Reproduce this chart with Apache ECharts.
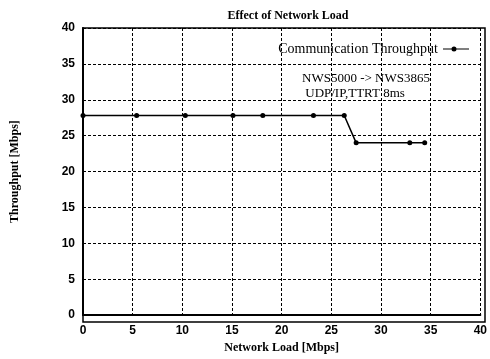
<!DOCTYPE html>
<html><head><meta charset="utf-8">
<script src="https://cdn.jsdelivr.net/npm/echarts@6/dist/echarts.min.js"></script>
<style>html,body{margin:0;padding:0;background:#fff}#c{width:490px;height:359px}</style>
</head><body><div id="c"></div>
<script>
const loadMbps = [0, 5.4, 10.3, 15.1, 18.1, 23.2, 26.3, 27.5, 32.9, 34.4];
const throughputMbps = [27.8, 27.8, 27.8, 27.8, 27.8, 27.8, 27.8, 24.0, 24.0, 24.0];
const seriesName = 'Communication Throughput';
const annotation = ['NWS5000 -> NWS3865', 'UDP/IP,TTRT 8ms'];
const F = 'Liberation Serif';
const FS = 'Liberation Sans';
const W = 490, H = 359;
const grid = {left: 83, right: 5, top: 28, bottom: 37};
const chart = echarts.init(document.getElementById('c'));
chart.setOption({
  animation: false,
  title: {text: 'Effect of Network Load', left: 283, top: 5, textAlign: 'center',
    textStyle: {fontFamily: F, fontSize: 12, fontWeight: 'bold', color: '#000'}},
  grid: grid,
  legend: {right: 16, top: 37, align: 'right', itemWidth: 26, itemHeight: 5, itemGap: 6,
    textStyle: {fontFamily: F, fontSize: 14, color: '#000'},
    data: [{name: seriesName,
      icon: 'path://M0,3.5L8.6,3.5L8.6,4.5L0,4.5Z M13.4,3.5L26,3.5L26,4.5L13.4,4.5Z M8.5,4A2.5,2.5 0 1,1 13.5,4A2.5,2.5 0 1,1 8.5,4Z'}]},
  graphic: [
    {type: 'text', left: 302, top: 71,
      style: {text: annotation[0] + '\n ' + annotation[1], font: '13px "Liberation Serif"', fill: '#000', align: 'left', lineHeight: 15}},
    {type: 'rect', silent: true, z: 10,
      shape: {x: grid.left, y: grid.top, width: W - grid.left - grid.right, height: H - grid.top - grid.bottom},
      style: {fill: 'none', stroke: '#000', lineWidth: 1.5}}
  ],
  xAxis: {type: 'value', min: 0, max: 40, interval: 5,
    name: 'Network Load [Mbps]', nameLocation: 'middle', nameGap: 26,
    nameTextStyle: {fontFamily: F, fontSize: 12, fontWeight: 'bold', color: '#000'},
    axisLine: {lineStyle: {color: '#000', width: 2}}, axisTick: {show: false},
    axisLabel: {fontFamily: FS, fontSize: 12, fontWeight: 'bold', color: '#000', margin: 10},
    splitLine: {lineStyle: {color: '#000', type: [3, 2], width: 1}}},
  yAxis: {type: 'value', min: 0, max: 40, interval: 5,
    name: 'Throughput [Mbps]', nameLocation: 'middle', nameGap: 62,
    nameTextStyle: {fontFamily: F, fontSize: 12, fontWeight: 'bold', color: '#000'},
    axisLine: {show: true, lineStyle: {color: '#000', width: 2}}, axisTick: {show: false},
    axisLabel: {fontFamily: FS, fontSize: 12, fontWeight: 'bold', color: '#000', margin: 8},
    splitLine: {lineStyle: {color: '#000', type: [3, 2], width: 1}}},
  series: [{name: seriesName, type: 'line', data: loadMbps.map((x, i) => [x, throughputMbps[i]]),
    symbol: 'circle', symbolSize: 5, itemStyle: {color: '#000'},
    lineStyle: {color: '#000', width: 1.5}}]
});
</script></body></html>
